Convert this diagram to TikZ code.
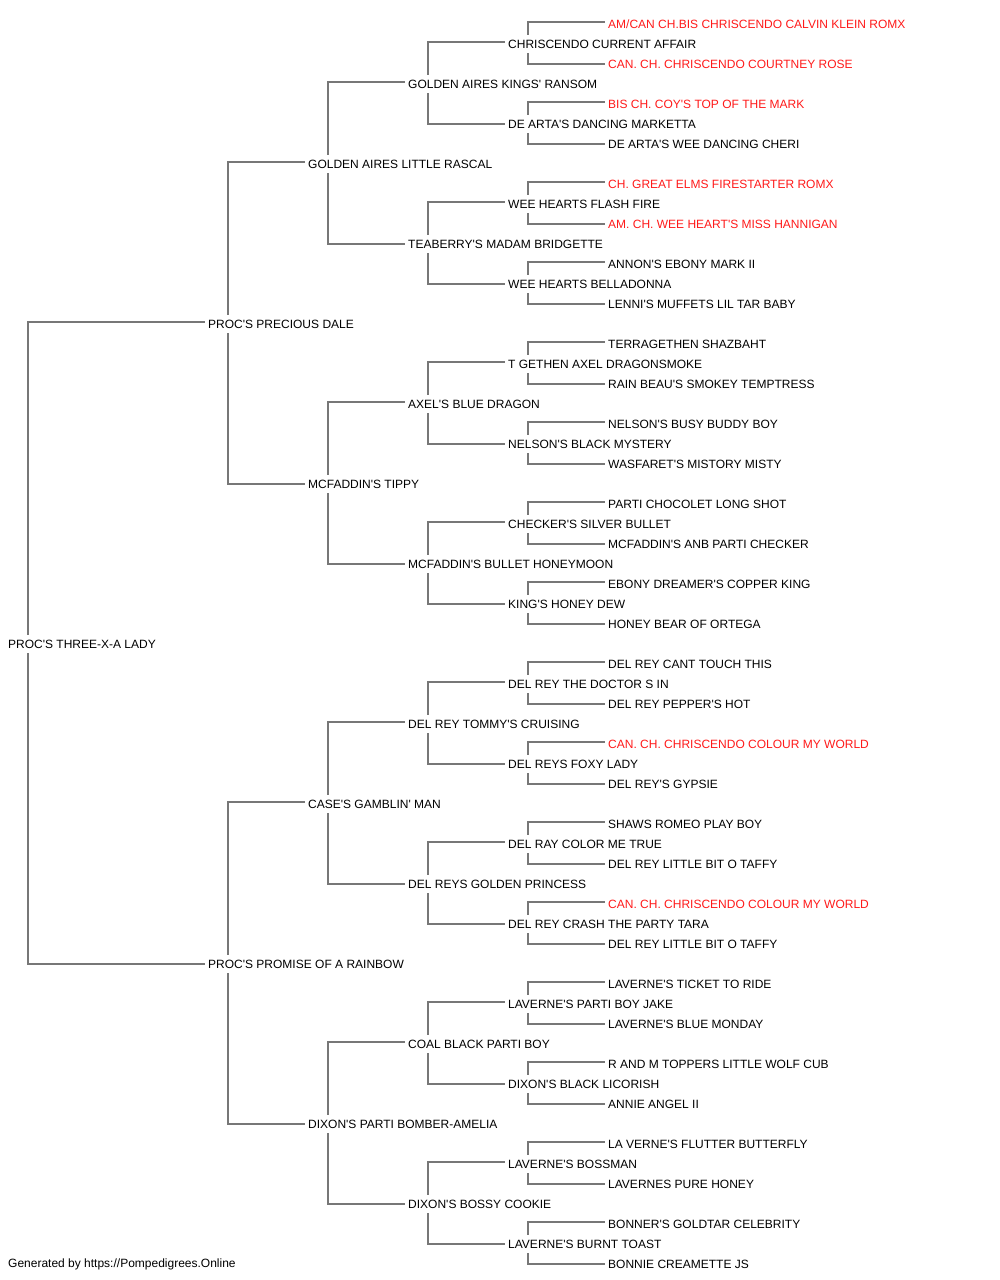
\documentclass[tikz,border=0pt]{standalone}
\usepackage{fontspec}
\setmainfont{Liberation Sans}[Ligatures=TeXOff]
\usetikzlibrary{calc}
\pgfdeclarelayer{bg}
\pgfsetlayers{bg,main}
\definecolor{chred}{HTML}{FF1A1A}
\definecolor{linegray}{HTML}{777777}
\tikzset{
  nm/.style={anchor=west, inner xsep=0pt, inner ysep=4.7pt, text height=8.6pt, text depth=0pt,
             fill=white, font=\fontsize{12}{14}\selectfont, text=black},
  ch/.style={nm, text=chred},
  conn/.style={draw=linegray, line width=2pt},
  foot/.style={anchor=west, inner sep=0pt, font=\fontsize{12}{14}\selectfont, text=black}
}
\newcommand\pedlink[3]{%
  \draw[conn] ([xshift=20pt]#1.west) |- ([xshift=-3pt,yshift=2pt]#2.west);
  \draw[conn] ([xshift=20pt]#1.west) |- ([xshift=-3pt]#3.west);}
\begin{document}
\begin{tikzpicture}[x=1pt,y=-1pt]
\useasboundingbox (0,0) rectangle (1000,1280);
% level 0
\node[nm] (a0) at (8,644) {PROC'S THREE-X-A LADY};
% level 1
\node[nm] (b0) at (208,324) {PROC'S PRECIOUS DALE};
\node[nm] (b1) at (208,964) {PROC'S PROMISE OF A RAINBOW};
% level 2
\node[nm] (c0) at (308,164) {GOLDEN AIRES LITTLE RASCAL};
\node[nm] (c1) at (308,484) {MCFADDIN'S TIPPY};
\node[nm] (c2) at (308,804) {CASE'S GAMBLIN' MAN};
\node[nm] (c3) at (308,1124) {DIXON'S PARTI BOMBER-AMELIA};
% level 3
\node[nm] (d0) at (408,84) {GOLDEN AIRES KINGS' RANSOM};
\node[nm] (d1) at (408,244) {TEABERRY'S MADAM BRIDGETTE};
\node[nm] (d2) at (408,404) {AXEL'S BLUE DRAGON};
\node[nm] (d3) at (408,564) {MCFADDIN'S BULLET HONEYMOON};
\node[nm] (d4) at (408,724) {DEL REY TOMMY'S CRUISING};
\node[nm] (d5) at (408,884) {DEL REYS GOLDEN PRINCESS};
\node[nm] (d6) at (408,1044) {COAL BLACK PARTI BOY};
\node[nm] (d7) at (408,1204) {DIXON'S BOSSY COOKIE};
% level 4
\node[nm] (e0) at (508,44) {CHRISCENDO CURRENT AFFAIR};
\node[nm] (e1) at (508,124) {DE ARTA'S DANCING MARKETTA};
\node[nm] (e2) at (508,204) {WEE HEARTS FLASH FIRE};
\node[nm] (e3) at (508,284) {WEE HEARTS BELLADONNA};
\node[nm] (e4) at (508,364) {T GETHEN AXEL DRAGONSMOKE};
\node[nm] (e5) at (508,444) {NELSON'S BLACK MYSTERY};
\node[nm] (e6) at (508,524) {CHECKER'S SILVER BULLET};
\node[nm] (e7) at (508,604) {KING'S HONEY DEW};
\node[nm] (e8) at (508,684) {DEL REY THE DOCTOR S IN};
\node[nm] (e9) at (508,764) {DEL REYS FOXY LADY};
\node[nm] (e10) at (508,844) {DEL RAY COLOR ME TRUE};
\node[nm] (e11) at (508,924) {DEL REY CRASH THE PARTY TARA};
\node[nm] (e12) at (508,1004) {LAVERNE'S PARTI BOY JAKE};
\node[nm] (e13) at (508,1084) {DIXON'S BLACK LICORISH};
\node[nm] (e14) at (508,1164) {LAVERNE'S BOSSMAN};
\node[nm] (e15) at (508,1244) {LAVERNE'S BURNT TOAST};
% level 5
\node[ch] (f0) at (608,24) {AM/CAN CH.BIS CHRISCENDO CALVIN KLEIN ROMX};
\node[ch] (f1) at (608,64) {CAN. CH. CHRISCENDO COURTNEY ROSE};
\node[ch] (f2) at (608,104) {BIS CH. COY'S TOP OF THE MARK};
\node[nm] (f3) at (608,144) {DE ARTA'S WEE DANCING CHERI};
\node[ch] (f4) at (608,184) {CH. GREAT ELMS FIRESTARTER ROMX};
\node[ch] (f5) at (608,224) {AM. CH. WEE HEART'S MISS HANNIGAN};
\node[nm] (f6) at (608,264) {ANNON'S EBONY MARK II};
\node[nm] (f7) at (608,304) {LENNI'S MUFFETS LIL TAR BABY};
\node[nm] (f8) at (608,344) {TERRAGETHEN SHAZBAHT};
\node[nm] (f9) at (608,384) {RAIN BEAU'S SMOKEY TEMPTRESS};
\node[nm] (f10) at (608,424) {NELSON'S BUSY BUDDY BOY};
\node[nm] (f11) at (608,464) {WASFARET'S MISTORY MISTY};
\node[nm] (f12) at (608,504) {PARTI CHOCOLET LONG SHOT};
\node[nm] (f13) at (608,544) {MCFADDIN'S ANB PARTI CHECKER};
\node[nm] (f14) at (608,584) {EBONY DREAMER'S COPPER KING};
\node[nm] (f15) at (608,624) {HONEY BEAR OF ORTEGA};
\node[nm] (f16) at (608,664) {DEL REY CANT TOUCH THIS};
\node[nm] (f17) at (608,704) {DEL REY PEPPER'S HOT};
\node[ch] (f18) at (608,744) {CAN. CH. CHRISCENDO COLOUR MY WORLD};
\node[nm] (f19) at (608,784) {DEL REY'S GYPSIE};
\node[nm] (f20) at (608,824) {SHAWS ROMEO PLAY BOY};
\node[nm] (f21) at (608,864) {DEL REY LITTLE BIT O TAFFY};
\node[ch] (f22) at (608,904) {CAN. CH. CHRISCENDO COLOUR MY WORLD};
\node[nm] (f23) at (608,944) {DEL REY LITTLE BIT O TAFFY};
\node[nm] (f24) at (608,984) {LAVERNE'S TICKET TO RIDE};
\node[nm] (f25) at (608,1024) {LAVERNE'S BLUE MONDAY};
\node[nm] (f26) at (608,1064) {R AND M TOPPERS LITTLE WOLF CUB};
\node[nm] (f27) at (608,1104) {ANNIE ANGEL II};
\node[nm] (f28) at (608,1144) {LA VERNE'S FLUTTER BUTTERFLY};
\node[nm] (f29) at (608,1184) {LAVERNES PURE HONEY};
\node[nm] (f30) at (608,1224) {BONNER'S GOLDTAR CELEBRITY};
\node[nm] (f31) at (608,1264) {BONNIE CREAMETTE JS};
% footer
\node[foot] (footer) at (8,1264) {Generated by https://Pompedigrees.Online};
% connectors
\begin{pgfonlayer}{bg}
\fill[white] (0,0) rectangle (1000,1280);
\pedlink{a0}{b0}{b1}
\foreach \k in {0,1}{\pgfmathtruncatemacro\u{2*\k}\pgfmathtruncatemacro\v{2*\k+1}\pedlink{b\k}{c\u}{c\v}}
\foreach \k in {0,...,3}{\pgfmathtruncatemacro\u{2*\k}\pgfmathtruncatemacro\v{2*\k+1}\pedlink{c\k}{d\u}{d\v}}
\foreach \k in {0,...,7}{\pgfmathtruncatemacro\u{2*\k}\pgfmathtruncatemacro\v{2*\k+1}\pedlink{d\k}{e\u}{e\v}}
\foreach \k in {0,...,15}{\pgfmathtruncatemacro\u{2*\k}\pgfmathtruncatemacro\v{2*\k+1}\pedlink{e\k}{f\u}{f\v}}
\end{pgfonlayer}
\end{tikzpicture}
\end{document}
